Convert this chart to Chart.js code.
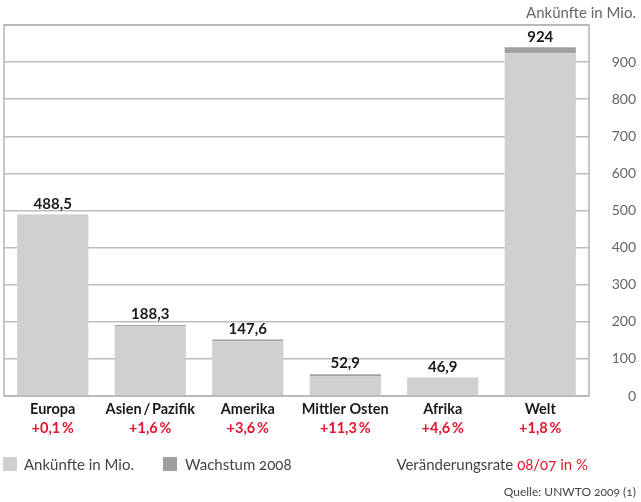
<!DOCTYPE html>
<html lang="de">
<head>
<meta charset="utf-8">
<script src="https://cdn.jsdelivr.net/npm/chart.js@4"></script>
<style>
  body { margin: 0; background: #fff; font-family: Lato, "Open Sans", sans-serif; }
  #wrap { position: relative; width: 641px; height: 502px; }
  .box { position: absolute; width: 14px; height: 14px; top: 457px; }
  .txt { position: absolute; font-size: 15px; color: #444; top: 455px; white-space: nowrap;
         font-feature-settings: "onum"; }
  .red { color: #e3142d; }
</style>
</head>
<body>
<div id="wrap">
  <canvas id="myChart" width="641" height="502"></canvas>
  <div class="box" style="left:3px;background:#cfd0d2"></div>
  <div class="txt" style="left:24px">Ankünfte in Mio.</div>
  <div class="box" style="left:163px;background:#a0a0a2"></div>
  <div class="txt" style="left:185px">Wachstum 2008</div>
  <div class="txt" style="right:53px">Veränderungsrate <span class="red">08/07 in %</span></div>
  <div class="txt" style="right:5px;top:484px;font-size:12px">Quelle: UNWTO 2009 (1)</div>
</div>
<script>
const regions = ["Europa", "Asien\u2009/\u2009Pazifik", "Amerika", "Mittler Osten", "Afrika", "Welt"];
const arrivals = [488.5, 188.3, 147.6, 52.9, 46.9, 924];
const growth = [0.5, 3, 5, 6, 2, 16];
const changeRate = [0.1, 1.6, 3.6, 11.3, 4.6, 1.8];
const yTicks = [0, 100, 200, 300, 400, 500, 600, 700, 800, 900];

const fmt = (v) => String(v).replace(".", ",");
const pctLabels = changeRate.map((v) => "+" + fmt(v) + "\u2009%");

// Rahmen um den Plotbereich
const framePlugin = {
  id: "frame",
  afterDatasetsDraw(chart) {
    const a = chart.chartArea;
    const ctx = chart.ctx;
    ctx.save();
    ctx.strokeStyle = "#b4b4b4";
    ctx.lineWidth = 1.5;
    ctx.strokeRect(a.left, a.top, a.right - a.left, a.bottom - a.top);
    ctx.restore();
  },
};

// Werte über den Balken
const valuePlugin = {
  id: "values",
  afterDatasetsDraw(chart) {
    const ctx = chart.ctx;
    const meta = chart.getDatasetMeta(1);
    const y = chart.scales.y;
    ctx.save();
    ctx.font = "bold 15px Lato";
    ctx.fillStyle = "#1a1a1a";
    ctx.textAlign = "center";
    ctx.textBaseline = "bottom";
    arrivals.forEach((v, i) => {
      const total = v + growth[i];
      ctx.fillText(fmt(v), meta.data[i].x, y.getPixelForValue(total) - 3);
    });
    ctx.restore();
  },
};

const ctx = document.getElementById("myChart").getContext("2d");
new Chart(ctx, {
  type: "bar",
  data: {
    labels: regions,
    datasets: [
      { label: "Ankünfte in Mio.", data: arrivals, backgroundColor: "#cfd0d2" },
      { label: "Wachstum 2008", data: growth, backgroundColor: "#a0a0a2" },
    ],
  },
  options: {
    responsive: false,
    animation: false,
    layout: { padding: { left: 4, right: 5, top: 0, bottom: 62 } },
    datasets: { bar: { barPercentage: 0.73, categoryPercentage: 1 } },
    plugins: {
      legend: { display: false },
      tooltip: { enabled: false },
      title: {
        display: true,
        text: "Ankünfte in Mio.",
        align: "end",
        color: "#666",
        font: { family: "Lato", size: 15, weight: "normal" },
        padding: { top: 4, bottom: 3 },
      },
    },
    scales: {
      x: {
        stacked: true,
        grid: { display: false, drawTicks: false },
        border: { display: false },
        ticks: { color: "#1a1a1a", font: { family: "Lato", size: 14.5, weight: "bold" }, padding: 5, maxRotation: 0, autoSkip: false },
        afterFit: (s) => { s.height = 23; },
      },
      x2: {
        type: "category",
        position: "bottom",
        labels: pctLabels,
        grid: { display: false, drawTicks: false },
        border: { display: false },
        ticks: { color: "#e3142d", font: { family: "Lato", size: 14.5, weight: "bold" }, padding: 1, maxRotation: 0, autoSkip: false },
        afterFit: (s) => { s.height = 21; },
      },
      y: {
        stacked: true,
        position: "right",
        min: 0,
        max: 1000,
        grid: { color: "#bdbdbd", lineWidth: 1.5, drawTicks: false },
        border: { display: false },
        afterBuildTicks: (s) => { s.ticks = yTicks.concat([1000]).map((v) => ({ value: v })); },
        ticks: {
          color: "#666",
          font: { family: "Lato", size: 14 },
          crossAlign: "far",
          padding: 12,
          callback: (v) => (yTicks.includes(v) ? String(v) : ""),
        },
        afterFit: (s) => { s.width = 47; },
      },
    },
  },
  plugins: [framePlugin, valuePlugin],
});
</script>
</body>
</html>
